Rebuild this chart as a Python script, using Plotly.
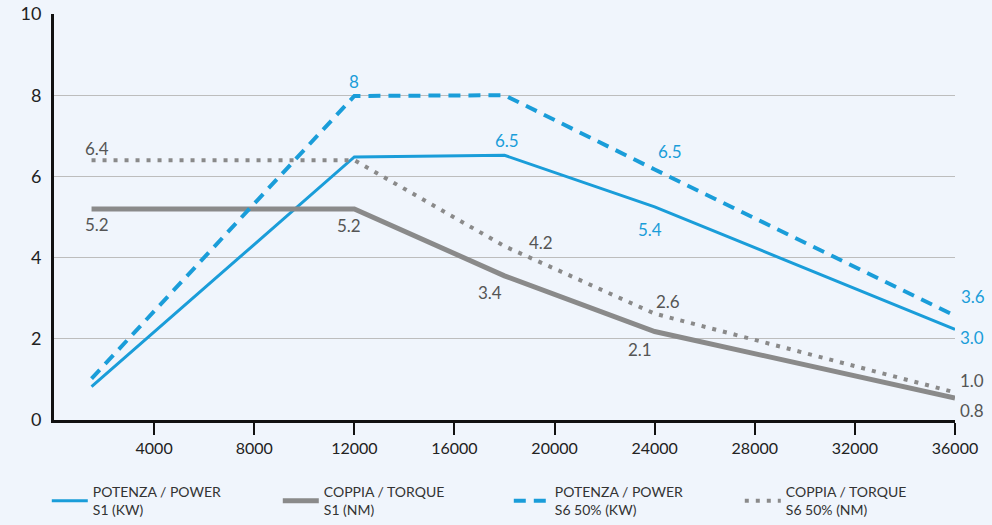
import plotly.graph_objects as go

# ---- data ----
speed = [1500, 12000, 18000, 24000, 36000]
power_s1 = [0.82, 6.48, 6.52, 5.25, 2.23]
torque_s1 = [5.2, 5.2, 3.55, 2.18, 0.54]
power_s6 = [1.02, 7.98, 8.0, 6.17, 2.57]
torque_s6 = [6.4, 6.4, 4.28, 2.62, 0.68]

series_names = [
    "POTENZA / POWER<br>S1 (KW)",
    "COPPIA / TORQUE<br>S1 (NM)",
    "POTENZA / POWER<br>S6 50% (KW)",
    "COPPIA / TORQUE<br>S6 50% (NM)",
]
x_ticks = [4000, 8000, 12000, 16000, 20000, 24000, 28000, 32000, 36000]
y_ticks = [0, 2, 4, 6, 8, 10]

# value labels: (series index, point index, text)
value_labels = [
    (2, 1, "8"), (0, 2, "6.5"), (2, 3, "6.5"), (0, 3, "5.4"),
    (2, 4, "3.6"), (0, 4, "3.0"),
    (3, 0, "6.4"), (1, 0, "5.2"), (1, 1, "5.2"), (3, 2, "4.2"),
    (1, 2, "3.4"), (3, 3, "2.6"), (1, 3, "2.1"), (3, 4, "1.0"), (1, 4, "0.8"),
]
# label offsets in pixels (styling)
label_shift = [
    (0, 15), (2, 15), (15, 18), (-5, -23),
    (18, 19), (17, -8),
    (5, 12), (5, -16), (-5, -17), (36, 4),
    (-15, -17), (13, 12), (-15, -18), (17, 12), (17, -12),
]

BLUE = "#1a9dd9"
GRAY = "#8a8a8a"
LABEL_GRAY = "#555555"
BG = "#f0f5fc"
FONT = "Lato"

all_series = [power_s1, torque_s1, power_s6, torque_s6]
styles = [
    dict(color=BLUE, width=3, dash="solid"),
    dict(color=GRAY, width=5, dash="solid"),
    dict(color=BLUE, width=4, dash="12px,8px"),
    dict(color=GRAY, width=4, dash="4px,7px"),
]
label_colors = [BLUE, LABEL_GRAY, BLUE, LABEL_GRAY]

fig = go.Figure()
for vals, name, st in zip(all_series, series_names, styles):
    fig.add_trace(go.Scatter(
        x=speed, y=vals, mode="lines", name=name, line=st,
        hoverinfo="x+y",
    ))

annotations = []
for (si, pi, txt), (dx, dy) in zip(value_labels, label_shift):
    annotations.append(dict(
        x=speed[pi], y=all_series[si][pi], xref="x", yref="y",
        text=txt, showarrow=False, xshift=dx, yshift=dy,
        font=dict(family=FONT, size=17, color=label_colors[si]),
        xanchor="center", yanchor="middle",
    ))

fig.update_layout(
    width=992, height=525,
    margin=dict(l=54, r=37, t=14, b=105, autoexpand=False),
    paper_bgcolor=BG, plot_bgcolor=BG,
    font=dict(family=FONT, size=16, color="#222222"),
    annotations=annotations,
    showlegend=True,
    legend=dict(
        orientation="h", x=-0.008, xanchor="left", y=-0.138, yanchor="top",
        font=dict(family=FONT, size=14, color="#333333"),
        itemwidth=36,
        entrywidth=180, entrywidthmode="pixels",
        bgcolor="rgba(0,0,0,0)", traceorder="normal",
    ),
    xaxis=dict(
        range=[0, 36000], tickvals=x_ticks, ticktext=[str(v) for v in x_ticks],
        showgrid=False, zeroline=False, automargin=False,
        showline=True, linecolor="#111111", linewidth=3,
        ticks="outside", ticklen=12, tickwidth=2, tickcolor="#111111",
        tickfont=dict(family=FONT, size=16, color="#222222"),
    ),
    yaxis=dict(
        range=[0, 10], tickvals=y_ticks, automargin=False,
        showgrid=True, gridcolor="#bdbdbd", gridwidth=1, zeroline=False,
        showline=True, linecolor="#111111", linewidth=3,
        ticks="", ticklabelstandoff=6,
        tickfont=dict(family=FONT, size=18, color="#222222"),
    ),
)

fig.write_html(
    "out.html",
    config={"displayModeBar": False},
    post_script="document.body.style.margin='0';document.body.style.padding='0';document.body.style.overflow='hidden';",
)
